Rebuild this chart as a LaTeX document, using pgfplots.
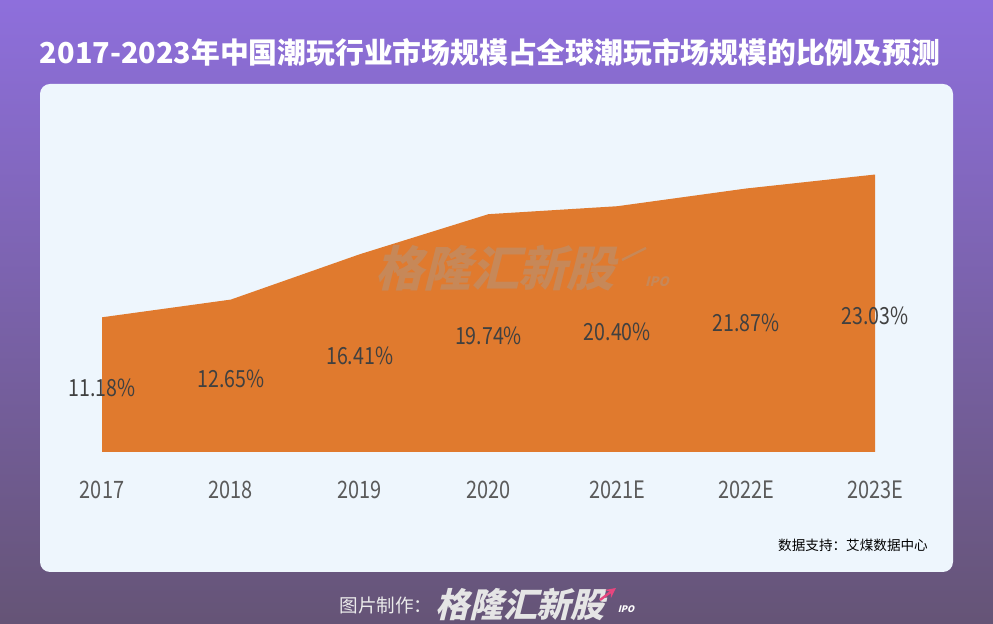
\documentclass[border=0pt]{standalone}
\usepackage{pgfplots}
\usepackage{pgfplotstable}
\pgfplotsset{compat=1.18}
\usepackage{fontspec}
\setmainfont{Noto Sans CJK SC}
\newfontfamily\condfont[FakeStretch=0.83]{Noto Sans CJK SC}
\newfontfamily\logofont[FakeSlant=0.25,BoldFeatures={FakeSlant=0.25}]{Noto Sans CJK SC}
\definecolor{areaor}{HTML}{E07A2E}
\definecolor{panel}{HTML}{EEF6FD}
\definecolor{bgtop}{HTML}{8E6FDC}
\definecolor{bgmid}{HTML}{7A66B4}
\definecolor{bgbot}{HTML}{655476}
\definecolor{lab}{HTML}{404040}
\definecolor{tickc}{HTML}{5A5A5A}
\definecolor{arrowpink}{HTML}{E8457E}
\pgfplotstableread{
x v h lab
0 11.18 5.59 11.18
1 12.65 6.325 12.65
2 16.41 8.205 16.41
3 19.74 9.87 19.74
4 20.40 10.20 20.40
5 21.87 10.935 21.87
6 23.03 11.515 23.03
}\datatab
\begin{document}
\begin{tikzpicture}[x=0.5pt,y=0.5pt]
\useasboundingbox (0,0) rectangle (993,624);
\shade[top color=bgtop, middle color=bgmid, bottom color=bgbot] (0,0) rectangle (993,624);
\fill[panel, rounded corners=5pt] (40,52) rectangle (953,540);
\node[text=white, font=\bfseries\fontsize{14.4}{15}\selectfont] at (490,572) {2017-2023年中国潮玩行业市场规模占全球潮玩市场规模的比例及预测};
\begin{axis}[at={(51pt,86pt)}, anchor=south west, scale only axis,
  width=386.5pt, height=150.6pt,
  xmin=0, xmax=6, ymin=0, ymax=25,
  axis line style={draw=none}, major tick length=0pt,
  ytick=\empty, xtick={0,...,6},
  xticklabels={2017,2018,2019,2020,2021E,2022E,2023E},
  xticklabel style={font=\condfont\fontsize{12}{12}\selectfont, text=tickc, anchor=center, yshift=-19pt},
  clip=false]
\addplot[fill=areaor, draw=none] table[x=x, y=v] {\datatab} \closedcycle;
\addplot[draw=none, mark=none, nodes near coords={\pgfplotspointmeta\%},
  point meta=explicit symbolic,
  nodes near coords style={anchor=center, yshift=-1.5pt, font=\condfont\fontsize{11.8}{12}\selectfont, text=lab}]
  table[x=x, y=h, meta=lab] {\datatab};
\end{axis}
\node[text=gray!75!white, opacity=0.38, font=\logofont\bfseries\fontsize{24}{25}\selectfont] at (495,356) {格隆汇新股};
\draw[gray!75!white, opacity=0.38, line width=1.2pt] (622,364) -- (646,376);
\node[text=gray!75!white, opacity=0.38, font=\logofont\bfseries\fontsize{6.5}{7}\selectfont] at (657,342) {IPO};
\node[text=black, font=\fontsize{6.8}{7}\selectfont] at (853,79) {数据支持：艾煤数据中心};
\node[text=white!92!black, font=\fontsize{9.3}{10}\selectfont] at (386,19) {图片制作：};
\node[text=white!90!black, font=\logofont\bfseries\fontsize{17}{18}\selectfont] at (520,20) {格隆汇新股};
\draw[arrowpink, line width=1.2pt, -stealth] (600,24) -- (616,36);
\node[text=white, font=\logofont\bfseries\fontsize{4.5}{5}\selectfont] at (626,15) {IPO};
\end{tikzpicture}
\end{document}
